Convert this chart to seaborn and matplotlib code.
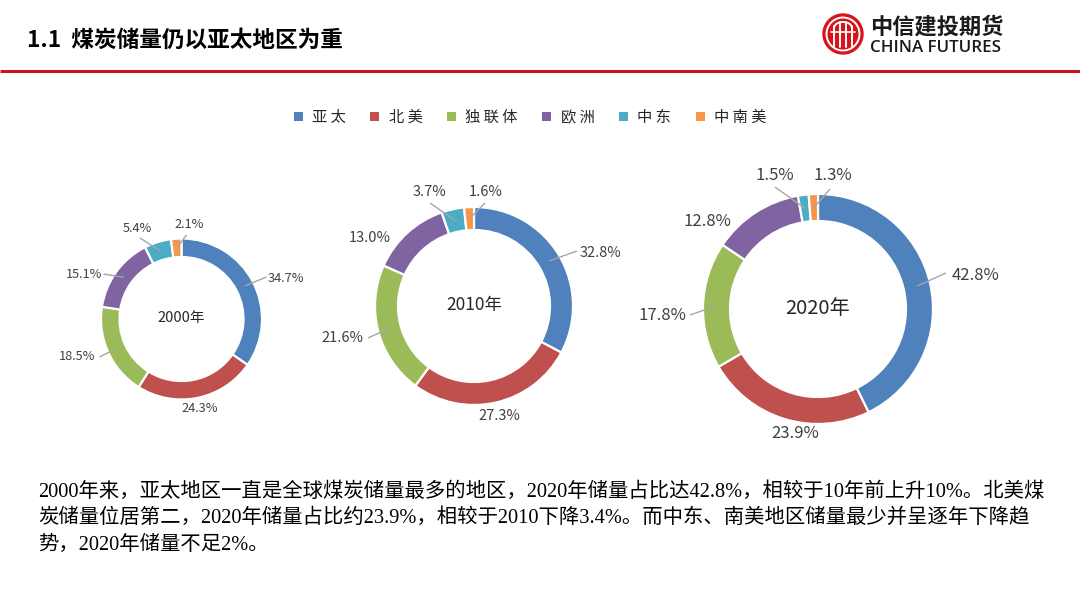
import numpy as np
import matplotlib
matplotlib.use('Agg')
import matplotlib.pyplot as plt
import seaborn as sns
from matplotlib.patches import Patch, Circle, Arc

# ---------------- data ----------------
regions = ['亚太', '北美', '独联体', '欧洲', '中东', '中南美']
years = ['2000年', '2010年', '2020年']
share_2000 = [34.7, 24.3, 18.5, 15.1, 5.4, 2.1]
share_2010 = [32.8, 27.3, 21.6, 13.0, 3.7, 1.6]
share_2020 = [42.8, 23.9, 17.8, 12.8, 1.5, 1.3]
region_colors = ['#4F81BD', '#C0504D', '#9BBB59', '#8064A2', '#4BACC6', '#F79646']

title = '1.1  煤炭储量仍以亚太地区为重'
body_lines = [
    '2000年来，亚太地区一直是全球煤炭储量最多的地区，2020年储量占比达42.8%，相较于10年前上升10%。北美煤',
    '炭储量位居第二，2020年储量占比约23.9%，相较于2010下降3.4%。而中东、南美地区储量最少并呈逐年下降趋',
    '势，2020年储量不足2%。',
]

# ---------------- style ----------------
sns.set_theme(style='white')
plt.rcParams['font.family'] = ['Noto Sans CJK SC', 'DejaVu Sans']
palette = sns.color_palette(region_colors)

W, H = 1080, 608
fig = plt.figure(figsize=(W / 100, H / 100), dpi=100)
ax = fig.add_axes([0, 0, 1, 1])


def Y(y):
    return H - y


# layout per donut: centre, radius, ring width, font sizes,
# label offsets (dx, dy) and leader end offsets (ex, ey) relative to centre (pixels, y down)
layouts = [
    dict(cx=181.5, cy=319, r=80.5, w=18.5, fs=9.2, cfs=10.5,
         labels=[(104, -40, 85, -42), (18, 90, None, None), (-104, 38, -82, 38),
                 (-97, -44, -78, -45), (-44, -91, -41.5, -81), (7.5, -95, 5, -84)]),
    dict(cx=474, cy=306, r=99, w=23, fs=10.5, cfs=12.5,
         labels=[(126, -53, 103, -55), (25, 110, None, None), (-132, 32, -106, 32),
                 (-104, -68, None, None), (-45, -114, -44, -103), (12, -114, 11, -103)]),
    dict(cx=818, cy=309, r=115, w=27, fs=12, cfs=14.5,
         labels=[(158, -34, 128, -36), (-23, 125, None, None), (-156, 7, -128, 6),
                 (-111, -88, None, None), (-43, -134, -43, -122), (15, -134, 12, -120)]),
]
shares = [share_2000, share_2010, share_2020]

for year, vals, lay in zip(years, shares, layouts):
    cx, cy, r, w = lay['cx'], lay['cy'], lay['r'], lay['w']
    wedges, _ = ax.pie(vals, colors=palette, startangle=90, counterclock=False,
                       radius=r, center=(cx, Y(cy)),
                       wedgeprops=dict(width=w, edgecolor='white', linewidth=1.6))
    ax.text(cx, Y(cy - 1), year, ha='center', va='center', fontsize=lay['cfs'], color='#262626')
    for wdg, v, (dx, dy, ex, ey) in zip(wedges, vals, lay['labels']):
        ax.text(cx + dx, Y(cy + dy), f'{v:.1f}%', ha='center', va='center',
                fontsize=lay['fs'], color='#404040')
        if ex is not None:
            mid = np.deg2rad((wdg.theta1 + wdg.theta2) / 2)
            rm = r - w / 2
            sx, sy = cx + rm * np.cos(mid), Y(cy) + rm * np.sin(mid)
            ax.plot([sx, cx + ex], [sy, Y(cy + ey)], color='#A6A6A6', lw=1.0,
                    solid_capstyle='butt', zorder=3)

ax.set_xlim(0, W)
ax.set_ylim(0, H)
ax.set_aspect('auto')
ax.axis('off')

# ---------------- header ----------------
ax.text(27, Y(40), title, ha='left', va='center', fontsize=16.3, fontweight='bold', color='black')
ax.plot([0, W], [Y(70.5), Y(70.5)], color='#C8161D', lw=2.2, solid_capstyle='butt')

# logo
lx, ly = 843, Y(34)
ax.add_patch(Circle((lx, ly), 20, color='#D7141A', zorder=5))
ax.add_patch(Circle((lx, ly), 16.5, fill=False, ec='white', lw=1.4, zorder=6))
for off, top in [(-3, 12), (3, 12), (-9, 8), (9, 8)]:
    ax.plot([lx + off, lx + off], [ly - 13, ly + top], color='white', lw=1.4, zorder=6)
ax.add_patch(Arc((lx, ly + 6), 18, 12, theta1=0, theta2=180, color='white', lw=1.4, zorder=6))
ax.plot([lx - 12, lx + 12], [ly + 2, ly + 2], color='white', lw=1.2, zorder=6)
ax.text(870, Y(27), '中信建投期货', ha='left', va='center', fontsize=16, fontweight='bold', color='#1a1a1a')
ax.text(870, Y(47.5), 'CHINA FUTURES', ha='left', va='center', fontsize=12.2,
        family=['Open Sans', 'DejaVu Sans'], fontweight='semibold', color='#1a1a1a')

# ---------------- legend ----------------
handles = [Patch(facecolor=c, edgecolor='none') for c in palette]
leg_labels = [' '.join(list(s)) for s in regions]
ax.legend(handles, leg_labels, loc='center', bbox_to_anchor=(530 / W, 1 - 117.5 / H),
          bbox_transform=fig.transFigure, ncol=6, frameon=False, fontsize=11,
          handlelength=0.6, handleheight=0.6, handletextpad=0.6, columnspacing=1.6,
          labelcolor='#262626')

# ---------------- body text ----------------
for i, line in enumerate(body_lines):
    ax.text(38, Y(492 + 26.5 * i), line, ha='left', va='center', fontsize=14.65,
            family=['Liberation Serif', 'Noto Sans CJK SC'], color='black')

fig.savefig('out.png', dpi=100)
